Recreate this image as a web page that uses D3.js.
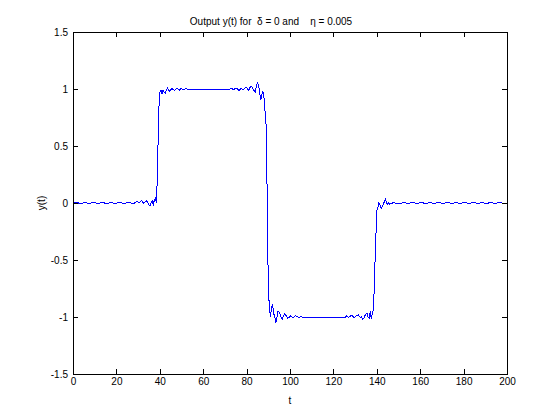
<!DOCTYPE html>
<html>
<head>
<meta charset="utf-8">
<script src="https://cdn.jsdelivr.net/npm/d3@7"></script>
<style>
body { margin: 0; background: #fff; }
svg text { font-family: "Liberation Sans", Arial, Helvetica, sans-serif; font-size: 10px; fill: #000; }
.axis path, .axis line { stroke: #000; shape-rendering: crispEdges; }
.signal { fill: none; stroke: #0000ff; stroke-width: 1; shape-rendering: crispEdges; }
</style>
</head>
<body>
<div id="chart"></div>
<script>
// samples: t and y(t)
var tVals = [
	// flat start
	0,1,2,3,4,5,6,7,8,9,10,11,12,13,14,15,16,17,18,19,20,21,22,23,24,25,26,27,28,
	// ripple + first rise
	28.5,29,29.5,30,30.5,31,31.5,32,32.5,33,
	33.5,34,34.5,35,35.5,36,36.5,37,37.5,38,
	38.5,39,39.5,40,40.5,41,41.5,42,42.5,43,
	43.5,44,44.5,45,45.5,46,46.5,47,47.5,48,
	48.5,49,49.5,50,50.5,51,51.5,52,52.5,53,
	53.5,54,
	// top plateau
	55,56,57,58,59,60,61,62,63,64,65,66,67,68,69,70,71,72,
	// ripple + fall
	72.5,73,73.5,74,74.5,75,75.5,76,76.5,77,
	77.5,78,78.5,79,79.5,80,80.5,81,81.5,82,
	82.5,83,83.5,84,84.5,85,85.5,86,86.5,87,
	87.5,88,88.5,89,89.5,90,90.5,91,91.5,92,
	92.5,93,93.5,94,94.5,95,95.5,96,96.5,97,
	97.5,98,98.5,99,99.5,100,100.5,101,101.5,102,
	102.5,103,103.5,104,104.5,105,105.5,106,
	// bottom plateau
	107,108,109,110,111,112,113,114,115,116,117,118,119,120,121,122,123,124,125,
	// ripple + second rise
	125.5,126,126.5,127,127.5,128,128.5,129,129.5,130,
	130.5,131,131.5,132,132.5,133,133.5,134,134.5,135,
	135.5,136,136.5,137,137.5,138,138.5,139,139.5,140,
	140.5,141,141.5,142,142.5,143,143.5,144,144.5,145,
	145.5,146,146.5,147,147.5,148,148.5,149,
	// flat end
	150,151,152,153,154,155,156,157,158,159,160,161,162,163,164,165,166,167,168,169,170,
	171,172,173,174,175,176,177,178,179,180,181,182,183,184,185,186,187,188,189,190,
	191,192,193,194,195,196,197,198,199,200
]

var yVals = [
	0.000,0.005,0.005,-0.004,-0.004,0.005,0.005,-0.004,-0.004,0.005,0.005,-0.004,-0.004,0.005,0.005,
	-0.004,-0.004,0.005,0.005,-0.004,-0.004,0.005,0.005,-0.004,-0.004,0.005,0.005,-0.004,-0.004,

	0.003,0.010,0.018,0.008,0.003,0.012,0.024,0.010,-0.003,0.004,
	0.012,0.020,0.000,-0.018,-0.024,0.000,0.018,-0.012,0.026,0.040,
	0.000,0.350,0.800,0.970,0.990,0.960,0.990,0.975,0.960,0.990,
	1.010,0.995,0.980,0.990,1.006,0.998,0.990,0.990,1.000,1.006,
	0.998,0.990,1.000,1.006,0.998,0.993,1.000,1.004,1.000,0.997,
	1.000,1.000,

	1,1,1,1,1,1,1,1,1,1,1,1,1,1,1,1,1,1,

	1.000,1.004,1.000,0.996,1.000,1.006,1.004,0.995,0.985,0.995,
	1.004,1.000,0.993,1.005,1.010,1.015,1.000,0.990,1.010,1.026,
	1.015,1.000,0.985,0.976,1.030,1.050,1.035,0.970,0.900,0.947,
	0.976,0.930,0.800,0.680,0.050,-0.750,-0.910,-1.000,-0.910,-0.890,
	-0.970,-1.000,-1.050,-1.000,-0.950,-0.960,-0.980,-1.010,-1.020,-0.990,
	-0.970,-0.980,-1.000,-1.010,-1.005,-0.990,-0.993,-1.000,-1.005,-1.000,
	-0.990,-0.995,-1.000,-1.004,-1.000,-0.995,-1.000,-1.000,

	-1,-1,-1,-1,-1,-1,-1,-1,-1,-1,-1,-1,-1,-1,-1,-1,-1,-1,-1,

	-1.000,-0.990,-0.996,-1.004,-0.995,-0.990,-0.985,-0.995,-1.004,-1.000,
	-0.990,-0.985,-0.982,-0.995,-1.004,-1.000,-1.020,-1.010,-0.990,-0.975,
	-0.970,-1.000,-1.010,-0.950,-1.020,-0.960,-0.940,-0.620,-0.340,-0.070,
	-0.040,0.003,-0.020,-0.046,-0.030,-0.010,0.012,0.030,0.000,-0.010,
	0.003,-0.010,0.000,-0.003,0.003,0.005,0.000,0.000,

	-0.004,-0.004,0.005,0.005,-0.004,-0.004,0.005,0.005,-0.004,-0.004,0.005,0.005,
	-0.004,-0.004,0.005,0.005,-0.004,-0.004,0.005,0.005,-0.004,-0.004,0.005,0.005,
	-0.004,-0.004,0.005,0.005,-0.004,-0.004,0.005,0.005,-0.004,-0.004,0.005,0.005,
	-0.004,-0.004,0.005,0.005,-0.004,-0.004,0.005,0.005,-0.004,-0.004,0.005,0.005,
	-0.004,-0.004,0.000
]

var xTicks = [0,20,40,60,80,100,120,140,160,180,200]
var yTicks = [-1.5,-1,-0.5,0,0.5,1,1.5]
var yTickLabels = ['-1.5','-1','-0.5','0','0.5','1','1.5']

var titleText = 'Output y(t) for  \u03b4 = 0 and    \u03b7 = 0.005'
var xLabel = 't'
var yLabel = 'y(t)'

var init = function(domelement) {

	var settings = {
		'width': 560,
		'height': 420,
		'margin': {'top': 32, 'left': 73, 'right': 53, 'bottom': 46}
	}
	var w = settings.width - settings.margin.left - settings.margin.right
	var h = settings.height - settings.margin.top - settings.margin.bottom

	var svg = d3.select(domelement).append('svg')
		.attr('width', settings.width)
		.attr('height', settings.height)

	var plot = svg.append('g')
		.attr('transform', 'translate(' + settings.margin.left + ',' + settings.margin.top + ')')

	var x = d3.scaleLinear().domain([0, 200]).range([0, w])
	var y = d3.scaleLinear().domain([-1.5, 1.5]).range([h, 0])

	var data = tVals.map(function(t, i) {
		return {'t': t, 'v': yVals[i]}
	})

	var line = d3.line()
		.x(function(d) { return x(d.t) })
		.y(function(d) { return y(d.v) })

	plot.append('path')
		.datum(data)
		.attr('class', 'signal')
		.attr('d', line)

	// box with inward ticks on all four sides
	plot.append('g').attr('class', 'axis')
		.attr('transform', 'translate(0,' + h + ')')
		.call(d3.axisBottom(x).tickValues(xTicks).tickSizeInner(-5).tickSizeOuter(0).tickPadding(4))

	plot.append('g').attr('class', 'axis')
		.call(d3.axisTop(x).tickValues(xTicks).tickSizeInner(-5).tickSizeOuter(0).tickFormat(''))

	plot.append('g').attr('class', 'axis')
		.call(d3.axisLeft(y).tickValues(yTicks).tickSizeInner(-5).tickSizeOuter(0).tickPadding(5)
			.tickFormat(function(d, i) { return yTickLabels[i] }))

	plot.append('g').attr('class', 'axis')
		.attr('transform', 'translate(' + w + ',0)')
		.call(d3.axisRight(y).tickValues(yTicks).tickSizeInner(-5).tickSizeOuter(0).tickFormat(''))

	svg.selectAll('.axis text')
		.attr('font-family', null).attr('font-size', null)
		.style('fill', '#000')

	svg.append('text')
		.attr('x', 271)
		.attr('y', 25)
		.attr('text-anchor', 'middle')
		.style('white-space', 'pre')
		.text(titleText)

	svg.append('text')
		.attr('x', settings.margin.left + w / 2)
		.attr('y', 404)
		.attr('text-anchor', 'middle')
		.text(xLabel)

	svg.append('text')
		.attr('transform', 'translate(45,' + (settings.margin.top + h / 2) + ') rotate(-90)')
		.attr('text-anchor', 'middle')
		.text(yLabel)
}

init('#chart')
</script>
</body>
</html>
